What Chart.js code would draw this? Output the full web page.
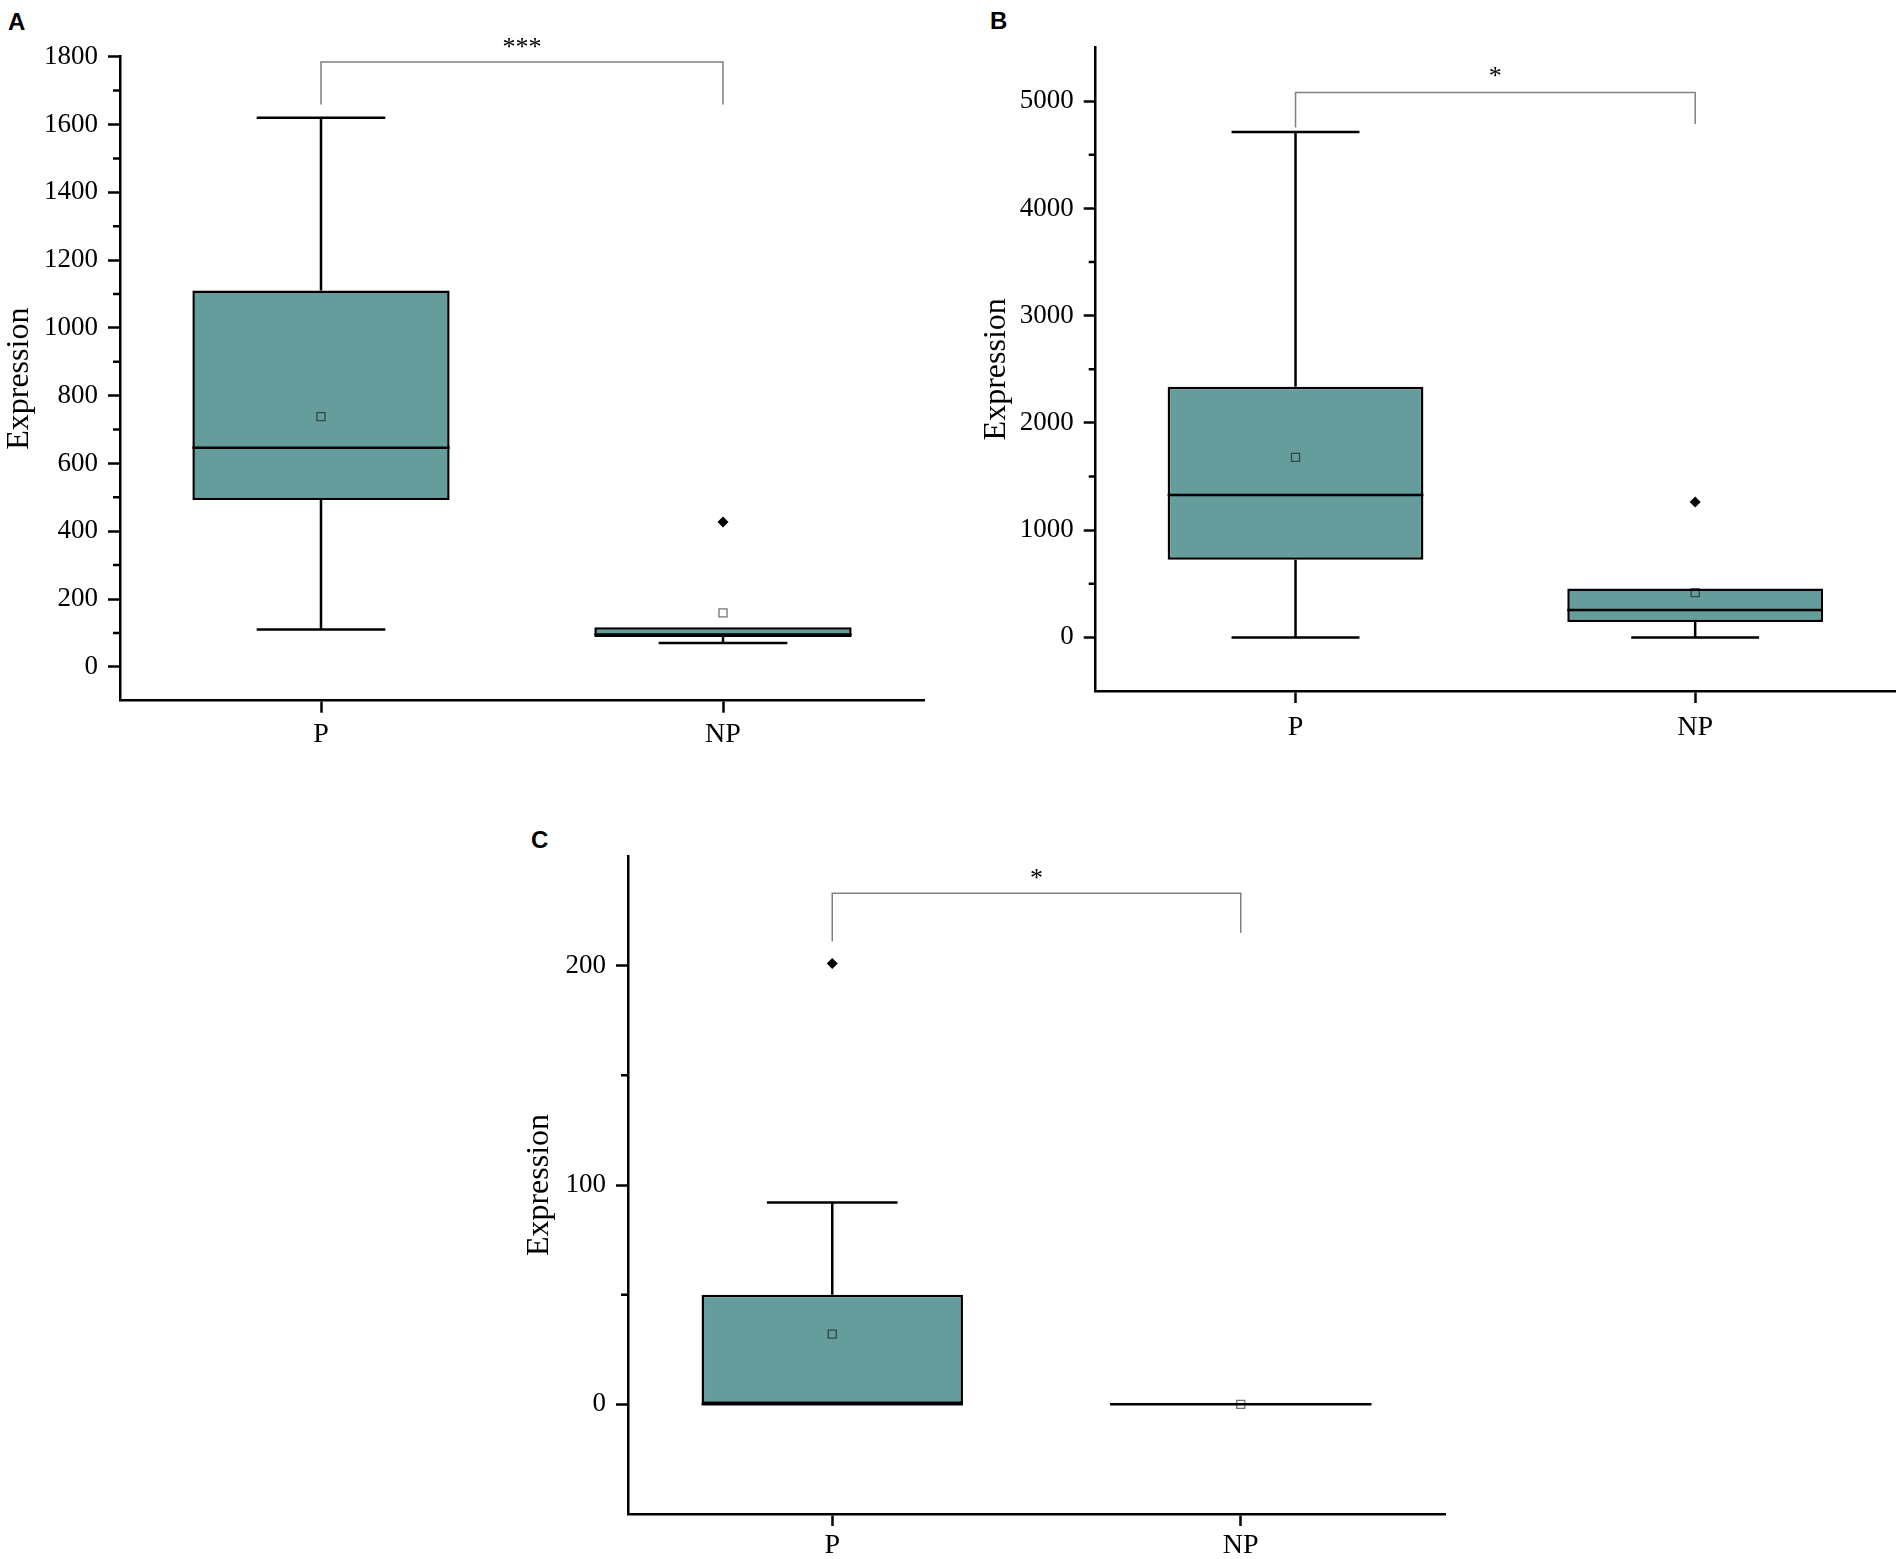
<!DOCTYPE html>
<html>
<head>
<meta charset="utf-8">
<script src="https://cdn.jsdelivr.net/npm/chart.js@4.4.1/dist/chart.umd.min.js"></script>
<style>
  html, body { margin: 0; padding: 0; background: #fff; }
  body { width: 1902px; height: 1559px; position: relative; overflow: hidden; }
  .panel { position: absolute; }
  .letter { position: absolute; font-family: "Liberation Sans", Arial, sans-serif; font-weight: bold; font-size: 24px; line-height: 24px; color: #000; }
</style>
</head>
<body>
<div class="letter" style="left:8px; top:10px;">A</div>
<div class="letter" style="left:990px; top:9px;">B</div>
<div class="letter" style="left:531px; top:828px;">C</div>
<div class="panel" id="wrapA" style="left:0px; top:0px; width:951px; height:780px;"><canvas id="chartA"></canvas></div>
<div class="panel" id="wrapB" style="left:951px; top:0px; width:951px; height:780px;"><canvas id="chartB"></canvas></div>
<div class="panel" id="wrapC" style="left:500px; top:780px; width:960px; height:779px;"><canvas id="chartC"></canvas></div>
<script>
// ---------------- DATA ----------------
const categories = ['P', 'NP'];

// Panel A
const panelA_q1 = [492, 88];
const panelA_median = [646, 95];
const panelA_q3 = [1110, 117];
const panelA_whiskerLow = [110, 70];
const panelA_whiskerHigh = [1620, 117];
const panelA_mean = [738, 159];
const panelA_outlier = [null, 427];
const panelA_ticks = [0, 200, 400, 600, 800, 1000, 1200, 1400, 1600, 1800];
const panelA_minorTicks = [100, 300, 500, 700, 900, 1100, 1300, 1500, 1700];
const panelA_range = [-100, 1800];
const panelA_bracket = [1659, 1784, 1659];
const panelA_star = '***';
const panelA_starY = 1842;

// Panel B
const panelB_q1 = [724, 144];
const panelB_median = [1327, 255];
const panelB_q3 = [2338, 455];
const panelB_whiskerLow = [0, 0];
const panelB_whiskerHigh = [4712, 455];
const panelB_mean = [1679, 417];
const panelB_outlier = [null, 1262];
const panelB_ticks = [0, 1000, 2000, 3000, 4000, 5000];
const panelB_minorTicks = [500, 1500, 2500, 3500, 4500];
const panelB_range = [-500, 5500];
const panelB_bracket = [4755, 5081, 4787];
const panelB_star = '*';
const panelB_starY = 5270;

// Panel C
const panelC_q1 = [0, 0];
const panelC_median = [0, 0];
const panelC_q3 = [50, 0];
const panelC_whiskerLow = [0, 0];
const panelC_whiskerHigh = [92, 0];
const panelC_mean = [32, 0];
const panelC_outlier = [201, null];
const panelC_ticks = [0, 100, 200];
const panelC_minorTicks = [50, 150];
const panelC_range = [-50, 250];
const panelC_bracket = [211, 233, 215];
const panelC_star = '*';
const panelC_starY = 242;

const axisTitle = 'Expression';

// ---------------- DRAWING ----------------
const BOX_FILL = '#659d9c';
const LINE_W = 2.5;
const SERIF = '"Liberation Serif", "Times New Roman", serif';

const boxPlugin = {
  id: 'boxExtras',
  afterDatasetDraw(chart, args) {
    if (args.meta.type !== 'bar') return;
    const o = chart.options.plugins.boxExtras;
    const ys = chart.scales.y;
    const ctx = chart.ctx;
    ctx.save();
    ctx.strokeStyle = '#000';
    ctx.lineWidth = LINE_W;
    ctx.lineCap = 'butt';
    args.meta.data.forEach((bar, i) => {
      const p = bar.getProps(['x', 'width'], true);
      const x = p.x, half = p.width / 2, cap = p.width / 4;
      const yMed = ys.getPixelForValue(o.median[i]);
      const yQ1 = ys.getPixelForValue(o.q1[i]);
      const yQ3 = ys.getPixelForValue(o.q3[i]);
      const yLo = ys.getPixelForValue(o.whiskerLow[i]);
      const yHi = ys.getPixelForValue(o.whiskerHigh[i]);
      ctx.beginPath();
      ctx.moveTo(x - half, yMed); ctx.lineTo(x + half, yMed);
      if (o.whiskerHigh[i] > o.q3[i]) {
        ctx.moveTo(x, yQ3); ctx.lineTo(x, yHi);
        ctx.moveTo(x - cap, yHi); ctx.lineTo(x + cap, yHi);
      }
      if (o.whiskerLow[i] < o.q1[i]) {
        ctx.moveTo(x, yQ1); ctx.lineTo(x, yLo);
        ctx.moveTo(x - cap, yLo); ctx.lineTo(x + cap, yLo);
      }
      ctx.stroke();
    });
    ctx.restore();
  },
  afterDraw(chart) {
    const o = chart.options.plugins.boxExtras;
    const ys = chart.scales.y, xs = chart.scales.x;
    const ctx = chart.ctx;
    ctx.save();
    ctx.strokeStyle = '#000';
    ctx.lineWidth = LINE_W;
    ctx.beginPath();
    const ax = chart.chartArea.left;
    o.minorTicks.forEach(v => {
      const yy = ys.getPixelForValue(v);
      ctx.moveTo(ax - 7, yy); ctx.lineTo(ax, yy);
    });
    ctx.stroke();
    const x1 = xs.getPixelForValue(0), x2 = xs.getPixelForValue(1);
    ctx.strokeStyle = '#808080';
    ctx.lineWidth = 1.5;
    ctx.beginPath();
    ctx.moveTo(x1, ys.getPixelForValue(o.bracket[0]));
    ctx.lineTo(x1, ys.getPixelForValue(o.bracket[1]));
    ctx.lineTo(x2, ys.getPixelForValue(o.bracket[1]));
    ctx.lineTo(x2, ys.getPixelForValue(o.bracket[2]));
    ctx.stroke();
    const fs = 26;
    ctx.fillStyle = '#000';
    ctx.font = fs + 'px ' + SERIF;
    ctx.textAlign = 'center';
    ctx.textBaseline = 'alphabetic';
    ctx.fillText(o.star, (x1 + x2) / 2, ys.getPixelForValue(o.starY) + 0.47 * fs);
    ctx.restore();
  }
};

function makePanel(canvasId, d, lay) {
  const ctx = document.getElementById(canvasId);
  return new Chart(ctx, {
    data: {
      labels: categories,
      datasets: [
        {
          type: 'line',
          data: d.outlier,
          showLine: false,
          pointStyle: 'rectRot',
          pointRadius: 5.5,
          pointBackgroundColor: '#000',
          pointBorderColor: '#000',
          pointBorderWidth: 0,
          order: 0
        },
        {
          type: 'line',
          data: d.mean,
          showLine: false,
          pointStyle: 'rect',
          pointRadius: 5.7,
          pointBackgroundColor: 'rgba(0,0,0,0)',
          pointBorderColor: 'rgba(0,0,0,0.55)',
          pointBorderWidth: 1.3,
          order: 1
        },
        {
          type: 'bar',
          data: d.q1.map((v, i) => [v, d.q3[i]]),
          backgroundColor: BOX_FILL,
          borderColor: '#000',
          borderWidth: LINE_W,
          borderSkipped: false,
          barPercentage: 0.64,
          categoryPercentage: 1.0,
          order: 2
        }
      ]
    },
    options: {
      responsive: true,
      maintainAspectRatio: false,
      animation: false,
      events: [],
      layout: { padding: { left: 0, top: lay.top, right: lay.right, bottom: 0 } },
      plugins: {
        legend: { display: false },
        tooltip: { enabled: false },
        boxExtras: {
          q1: d.q1, q3: d.q3, median: d.median,
          whiskerLow: d.whiskerLow, whiskerHigh: d.whiskerHigh,
          minorTicks: d.minorTicks, bracket: d.bracket, star: d.star, starY: d.starY
        }
      },
      scales: {
        x: {
          type: 'category',
          offset: true,
          afterFit(s) { s.height = lay.xHeight; },
          grid: { display: true, offset: false, drawOnChartArea: false, drawTicks: true, tickLength: 12, tickWidth: LINE_W, tickColor: '#000' },
          border: { display: true, color: '#000', width: LINE_W },
          ticks: { color: '#000', padding: lay.xPad, font: { family: SERIF, size: 28 } }
        },
        y: {
          type: 'linear',
          min: d.range[0],
          max: d.range[1],
          afterFit(s) { s.width = lay.yWidth; },
          afterBuildTicks(s) { s.ticks = d.ticks.map(v => ({ value: v })); },
          grid: { display: true, drawOnChartArea: false, drawTicks: true, tickLength: 12, tickWidth: LINE_W, tickColor: '#000' },
          border: { display: true, color: '#000', width: LINE_W },
          ticks: { color: '#000', padding: 10, font: { family: SERIF, size: 27 }, callback: (v) => String(v) },
          title: {
            display: true,
            text: axisTitle,
            color: '#000',
            font: { family: SERIF, size: 32 },
            padding: { top: lay.titlePad, bottom: 0 }
          }
        }
      }
    },
    plugins: [boxPlugin]
  });
}

makePanel('chartA', {
  q1: panelA_q1, q3: panelA_q3, median: panelA_median,
  whiskerLow: panelA_whiskerLow, whiskerHigh: panelA_whiskerHigh,
  mean: panelA_mean, outlier: panelA_outlier,
  ticks: panelA_ticks, minorTicks: panelA_minorTicks, range: panelA_range,
  bracket: panelA_bracket, star: panelA_star, starY: panelA_starY
}, { top: 56.7, right: 27, xHeight: 79.3, yWidth: 120, titlePad: 0, xPad: 5 });

makePanel('chartB', {
  q1: panelB_q1, q3: panelB_q3, median: panelB_median,
  whiskerLow: panelB_whiskerLow, whiskerHigh: panelB_whiskerHigh,
  mean: panelB_mean, outlier: panelB_outlier,
  ticks: panelB_ticks, minorTicks: panelB_minorTicks, range: panelB_range,
  bracket: panelB_bracket, star: panelB_star, starY: panelB_starY
}, { top: 47.6, right: 3, xHeight: 89, yWidth: 144.7, titlePad: 26, xPad: 8 });

makePanel('chartC', {
  q1: panelC_q1, q3: panelC_q3, median: panelC_median,
  whiskerLow: panelC_whiskerLow, whiskerHigh: panelC_whiskerHigh,
  mean: panelC_mean, outlier: panelC_outlier,
  ticks: panelC_ticks, minorTicks: panelC_minorTicks, range: panelC_range,
  bracket: panelC_bracket, star: panelC_star, starY: panelC_starY
}, { top: 76, right: 15, xHeight: 45, yWidth: 128, titlePad: 20, xPad: 3 });
</script>
</body>
</html>
